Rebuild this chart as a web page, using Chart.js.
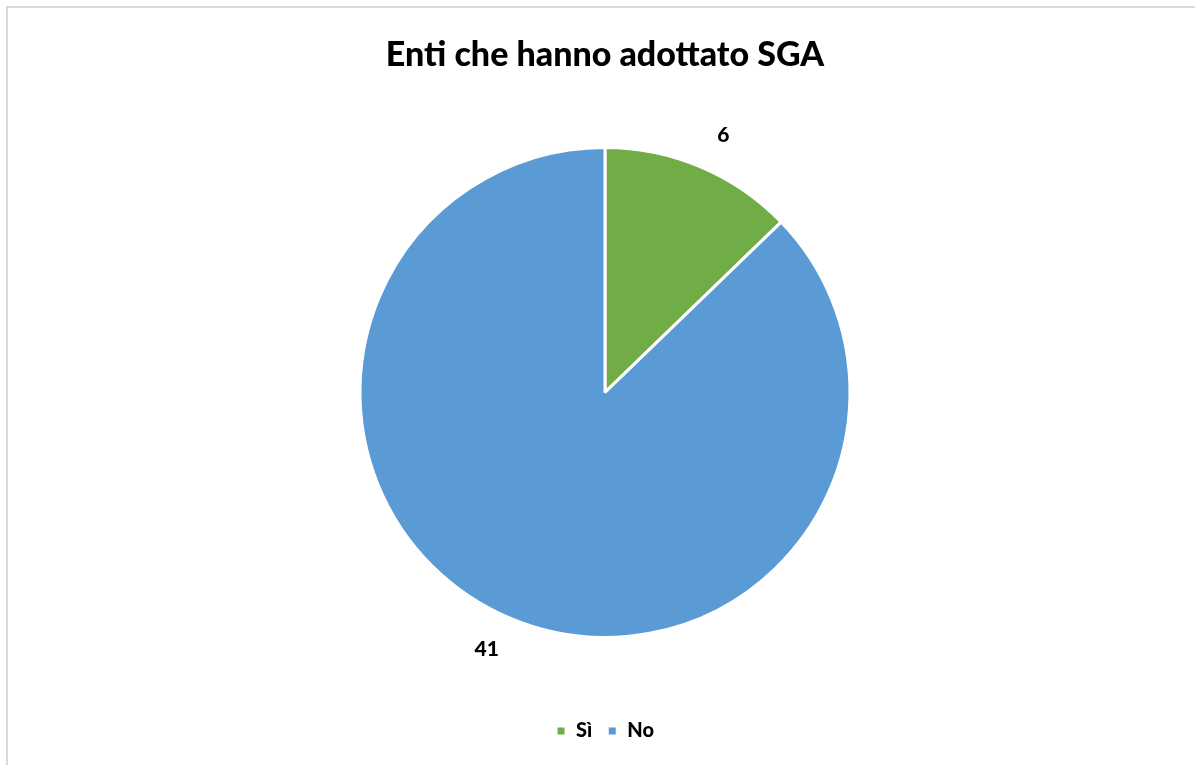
<!DOCTYPE html>
<html>
<head>
<meta charset="utf-8">
<script src="https://cdn.jsdelivr.net/npm/chart.js@4/dist/chart.umd.min.js"></script>
<style>
  html, body { margin: 0; padding: 0; background: #fff; overflow: hidden; }
  #frame {
    position: absolute; left: 6px; top: 6px;
    width: 1200px; height: 770px;
    border-top: 2px solid #d9d9d9; border-left: 2px solid #d9d9d9;
  }
  #wrap { position: absolute; left: 0; top: 0; width: 1194px; height: 757px; }
</style>
</head>
<body>
<div id="frame">
  <div id="wrap"><canvas id="chart-sga"></canvas></div>
</div>
<script>
  const FONT = "Lato, 'Open Sans', sans-serif";

  const categories = ['Sì', 'No'];
  const counts = [6, 41];
  const sliceColors = ['#70AD47', '#5B9BD5'];

  // draws the value just outside each slice, like Excel's "outside end" labels
  const outsideLabels = {
    id: 'outsideLabels',
    afterDatasetsDraw(chart) {
      const ctx = chart.ctx;
      const meta = chart.getDatasetMeta(0);
      ctx.save();
      ctx.font = "900 21px " + FONT;
      ctx.fillStyle = '#000';
      ctx.textAlign = 'center';
      ctx.textBaseline = 'middle';
      meta.data.forEach((arc, i) => {
        const p = arc.getProps(['x', 'y', 'startAngle', 'endAngle', 'outerRadius'], true);
        const mid = (p.startAngle + p.endAngle) / 2 + 0.03;
        const dist = p.outerRadius + 38;
        ctx.fillText(String(counts[i]), p.x + Math.cos(mid) * dist, p.y + Math.sin(mid) * dist);
      });
      ctx.restore();
    }
  };

  new Chart(document.getElementById('chart-sga'), {
    type: 'pie',
    data: {
      labels: categories,
      datasets: [{
        data: counts,
        backgroundColor: sliceColors,
        borderColor: '#ffffff',
        borderWidth: 3,
        radius: 245
      }]
    },
    options: {
      responsive: true,
      maintainAspectRatio: false,
      animation: false,
      layout: { padding: { top: 0, bottom: 14, left: 0, right: 0 } },
      plugins: {
        title: {
          display: true,
          text: 'Enti che hanno adottato SGA',
          color: '#000',
          font: { family: FONT, size: 34, weight: '900' },
          padding: { top: 27, bottom: 3 }
        },
        legend: {
          position: 'bottom',
          labels: {
            color: '#000',
            font: { family: FONT, size: 20, weight: '900' },
            boxWidth: 10,
            boxHeight: 10,
            padding: 15
          }
        },
        tooltip: { enabled: false }
      }
    },
    plugins: [outsideLabels]
  });
</script>
</body>
</html>
